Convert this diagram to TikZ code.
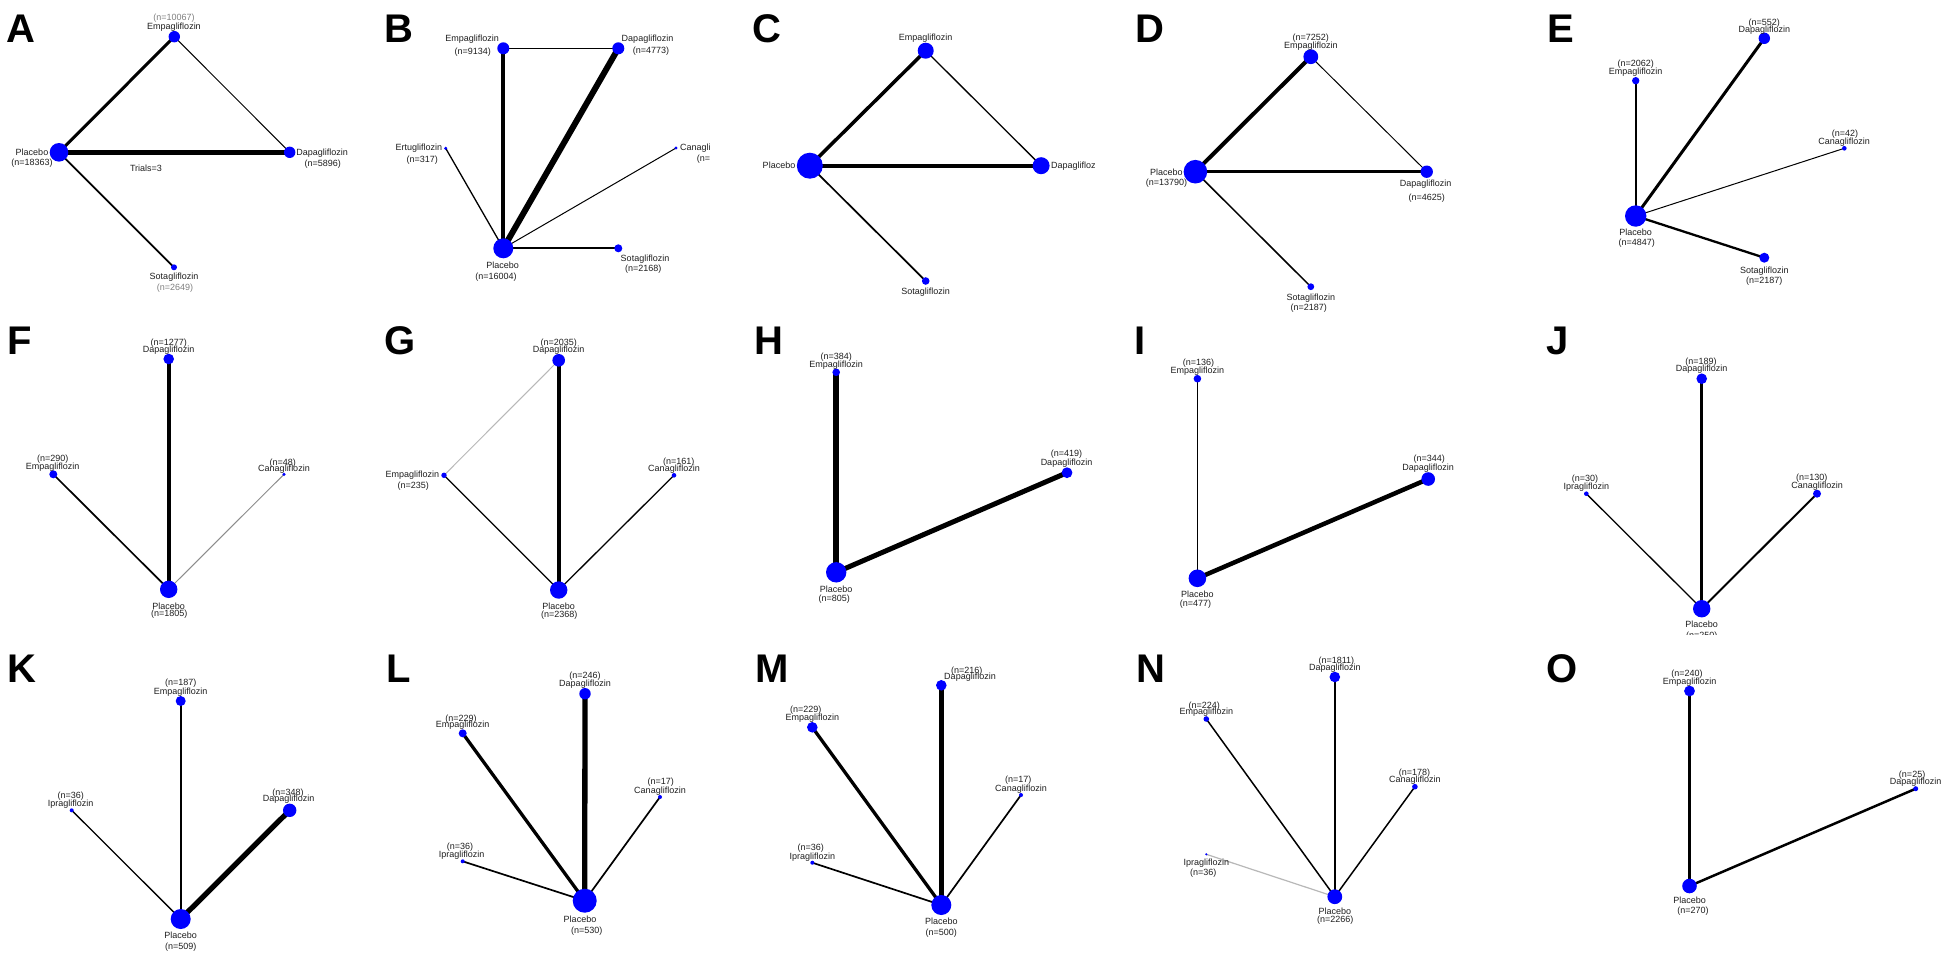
\documentclass[tikz,border=0pt]{standalone}
\usepackage{fontspec}
\setmainfont{Liberation Sans}
\usetikzlibrary{backgrounds}
\begin{document}
\begin{tikzpicture}[x=1pt,y=-1pt,
  nd/.style={circle,fill=blue,draw=none,inner sep=0pt,minimum size=#1},
  lb/.style={inner sep=0pt,font=\fontsize{9}{10}\selectfont,text=black!88},
  gl/.style={lb,text=black!50},
  plet/.style={anchor=base west,inner sep=0pt,font=\fontsize{40}{40}\selectfont\bfseries},
  ed/.style={draw=black,line width=#1},
  ged/.style={draw=black!45,line width=#1},
  lged/.style={draw=black!28,line width=#1}]
\useasboundingbox (0,0) rectangle (1950,962);
\begin{scope}[on background layer]
\fill[white] (0,0) rectangle (1950,962);
\end{scope}

% ---------------- A ----------------
\node[plet] (A) at (6,42) {A};
\node[nd=18.6] (Apl) at (59,152.3) {};
\node[nd=11.4] (Aem) at (174.3,36.7) {};
\node[nd=11.4] (Ada) at (289.7,152.3) {};
\node[nd=6] (Aso) at (174,267.3) {};
\node[gl] (Aeml1) at (174,18) {(n=10067)};
\node[lb] (Aeml2) at (174,27) {Empagliflozin};
\node[lb] (Apll1) at (32,152.3) {Placebo};
\node[lb] (Apll2) at (32,163.3) {(n=18363)};
\node[lb] (Adal1) at (322.2,152.7) {Dapagliflozin};
\node[lb] (Adal2) at (322.7,164) {(n=5896)};
\node[lb] (Asol1) at (174,277.3) {Sotagliflozin};
\node[gl] (Asol2) at (175,288.3) {(n=2649)};
\node[lb] (Atr) at (146,168.7) {Trials=3};
\begin{scope}[on background layer]
\draw[ed=3] (Apl.center) -- (Aem.center);
\draw[ed=4.7] (Apl.center) -- (Ada.center);
\draw[ed=1] (Aem.center) -- (Ada.center);
\draw[ed=1.7] (Apl.center) -- (Aso.center);
\end{scope}

% ---------------- B ----------------
\node[plet] (B) at (384,42) {B};
\node[nd=20] (Bpl) at (503.3,248.3) {};
\node[nd=12] (Bem) at (503.3,48.3) {};
\node[nd=12] (Bda) at (618.3,48.3) {};
\node[nd=3.4] (Ber) at (445.7,148.3) {};
\node[nd=3.4] (Bca) at (676,148) {};
\node[nd=8] (Bso) at (618.3,248.3) {};
\node[lb] (Beml1) at (472.2,39.3) {Empagliflozin};
\node[lb] (Beml2) at (472.7,51.7) {(n=9134)};
\node[lb] (Bdal1) at (647.5,39.3) {Dapagliflozin};
\node[lb] (Bdal2) at (651,50.7) {(n=4773)};
\node[lb] (Berl1) at (418.8,148.3) {Ertugliflozin};
\node[lb] (Berl2) at (422.3,160) {(n=317)};
\begin{scope}
\clip (380,0) rectangle (709,320);
\node[lb,anchor=west] (Bcal1) at (680,148.3) {Canagliflozin};
\node[lb,anchor=west] (Bcal2) at (696.7,159.3) {(n=};
\end{scope}
\node[lb] (Bpll1) at (502.7,265.7) {Placebo};
\node[lb] (Bpll2) at (496,276.7) {(n=16004)};
\node[lb] (Bsol1) at (645,258.7) {Sotagliflozin};
\node[lb] (Bsol2) at (643.3,269) {(n=2168)};
\begin{scope}[on background layer]
\draw[ed=4] (Bpl.center) -- (Bem.center);
\draw[ed=6] (Bpl.center) -- (Bda.center);
\draw[ed=1.3] (Bem.center) -- (Bda.center);
\draw[ed=1.3] (Bpl.center) -- (Ber.center);
\draw[ed=1] (Bpl.center) -- (Bca.center);
\draw[ed=1.7] (Bpl.center) -- (Bso.center);
\end{scope}

% ---------------- C ----------------
\node[plet] (C) at (752,42) {C};
\node[nd=26] (Cpl) at (809.8,165.7) {};
\node[nd=16] (Cem) at (925.7,50.7) {};
\node[nd=17] (Cda) at (1041.1,165.7) {};
\node[nd=7.6] (Cso) at (925.7,281) {};
\node[lb] (Ceml) at (925.7,37.7) {Empagliflozin};
\node[lb] (Cpll) at (779,165.7) {Placebo};
\begin{scope}
\clip (1000,100) rectangle (1094,220);
\node[lb,anchor=west] (Cdal) at (1051,165.7) {Dapagliflozin};
\end{scope}
\node[lb] (Csol) at (925.7,291.7) {Sotagliflozin};
\begin{scope}[on background layer]
\draw[ed=3.5] (Cpl.center) -- (Cem.center);
\draw[ed=4] (Cpl.center) -- (Cda.center);
\draw[ed=1.3] (Cem.center) -- (Cda.center);
\draw[ed=1.7] (Cpl.center) -- (Cso.center);
\end{scope}

% ---------------- D ----------------
\node[plet] (D) at (1135,42) {D};
\node[nd=23.6] (Dpl) at (1195.4,171.7) {};
\node[nd=14.8] (Dem) at (1310.8,56.7) {};
\node[nd=12.4] (Dda) at (1426.7,171.7) {};
\node[nd=6.8] (Dso) at (1310.8,286.7) {};
\node[lb] (Deml1) at (1310.8,37.7) {(n=7252)};
\node[lb] (Deml2) at (1310.8,45.7) {Empagliflozin};
\node[lb] (Dpll1) at (1166.3,172.3) {Placebo};
\node[lb] (Dpll2) at (1166.5,182.7) {(n=13790)};
\node[lb] (Ddal1) at (1425.7,184.3) {Dapagliflozin};
\node[lb] (Ddal2) at (1426.7,197.7) {(n=4625)};
\node[lb] (Dsol1) at (1310.8,297.7) {Sotagliflozin};
\node[lb] (Dsol2) at (1308.8,308.3) {(n=2187)};
\begin{scope}[on background layer]
\draw[ed=4] (Dpl.center) -- (Dem.center);
\draw[ed=3.3] (Dpl.center) -- (Dda.center);
\draw[ed=1] (Dem.center) -- (Dda.center);
\draw[ed=1.5] (Dpl.center) -- (Dso.center);
\end{scope}

% ---------------- E ----------------
\node[plet] (E) at (1547,42) {E};
\node[nd=21.4] (Epl) at (1635.7,216) {};
\node[nd=11.4] (Eda) at (1764.3,38.3) {};
\node[nd=7.4] (Eem) at (1635.7,80.7) {};
\node[nd=4.6] (Eca) at (1844.3,148.3) {};
\node[nd=10] (Eso) at (1764.3,257.7) {};
\node[lb] (Edal1) at (1764.3,22.7) {(n=552)};
\node[lb] (Edal2) at (1764.3,29.7) {Dapagliflozin};
\node[lb] (Eeml1) at (1635.7,64) {(n=2062)};
\node[lb] (Eeml2) at (1635.7,72.3) {Empagliflozin};
\node[lb] (Ecal1) at (1845,134.3) {(n=42)};
\node[lb] (Ecal2) at (1844,142.3) {Canagliflozin};
\node[lb] (Epll1) at (1635.7,232.7) {Placebo};
\node[lb] (Epll2) at (1636.7,242.7) {(n=4847)};
\node[lb] (Esol1) at (1764.3,270.7) {Sotagliflozin};
\node[lb] (Esol2) at (1764.3,281) {(n=2187)};
\begin{scope}[on background layer]
\draw[ed=1.7] (Epl.center) -- (Eem.center);
\draw[ed=3] (Epl.center) -- (Eda.center);
\draw[ed=1] (Epl.center) -- (Eca.center);
\draw[ed=2.3] (Epl.center) -- (Eso.center);
\end{scope}

% ---------------- F ----------------
\node[plet] (F) at (7,354) {F};
\node[nd=17.4] (Fpl) at (168.7,589.3) {};
\node[nd=10.6] (Fda) at (168.7,359) {};
\node[nd=8] (Fem) at (53.3,474.3) {};
\node[nd=3.4] (Fca) at (284,474.3) {};
\node[lb] (Fdal1) at (168.7,342.7) {(n=1277)};
\node[lb] (Fdal2) at (168.7,349.7) {Dapagliflozin};
\node[lb] (Feml1) at (52.7,459.3) {(n=290)};
\node[lb] (Feml2) at (52.7,467) {Empagliflozin};
\node[lb] (Fcal1) at (282.7,462.7) {(n=48)};
\node[lb] (Fcal2) at (284,468.7) {Canagliflozin};
\node[lb] (Fpll1) at (168.7,606) {Placebo};
\node[lb] (Fpll2) at (169.3,614) {(n=1805)};
\begin{scope}[on background layer]
\draw[ed=3.7] (Fpl.center) -- (Fda.center);
\draw[ed=1.7] (Fpl.center) -- (Fem.center);
\draw[ged=1] (Fpl.center) -- (Fca.center);
\end{scope}

% ---------------- G ----------------
\node[plet] (G) at (384,354) {G};
\node[nd=17.4] (Gpl) at (558.7,590) {};
\node[nd=12.6] (Gda) at (558.7,360.3) {};
\node[nd=5.4] (Gem) at (444,475.3) {};
\node[nd=4.6] (Gca) at (674,475.3) {};
\node[lb] (Gdal1) at (558.7,342.7) {(n=2035)};
\node[lb] (Gdal2) at (558.7,349.7) {Dapagliflozin};
\node[lb] (Geml1) at (412.3,475.3) {Empagliflozin};
\node[lb] (Geml2) at (413.3,485.7) {(n=235)};
\node[lb] (Gcal1) at (678.7,461.7) {(n=161)};
\node[lb] (Gcal2) at (674,469) {Canagliflozin};
\node[lb] (Gpll1) at (558.7,606) {Placebo};
\node[lb] (Gpll2) at (559.3,615.3) {(n=2368)};
\begin{scope}[on background layer]
\draw[lged=1] (Gda.center) -- (Gem.center);
\draw[ed=3.7] (Gpl.center) -- (Gda.center);
\draw[ed=1.3] (Gpl.center) -- (Gem.center);
\draw[ed=1.3] (Gpl.center) -- (Gca.center);
\end{scope}

% ---------------- H ----------------
\node[plet] (H) at (754,354) {H};
\node[nd=20.4] (Hpl) at (836.2,572.3) {};
\node[nd=7.6] (Hem) at (836.2,372.3) {};
\node[nd=10.8] (Hda) at (1067,472.7) {};
\node[lb] (Heml1) at (836.2,357.3) {(n=384)};
\node[lb] (Heml2) at (836.2,365) {Empagliflozin};
\node[lb] (Hdal1) at (1066.5,454.3) {(n=419)};
\node[lb] (Hdal2) at (1066.5,463) {Dapagliflozin};
\node[lb] (Hpll1) at (836.2,589.3) {Placebo};
\node[lb] (Hpll2) at (834.2,599) {(n=805)};
\begin{scope}[on background layer]
\draw[ed=5.5] (Hpl.center) -- (Hem.center);
\draw[ed=5] (Hpl.center) -- (Hda.center);
\end{scope}

% ---------------- I ----------------
\node[plet] (I) at (1134,354) {I};
\node[nd=17.6] (Ipl) at (1197.4,578.3) {};
\node[nd=7.6] (Iem) at (1197.4,378.7) {};
\node[nd=13.6] (Ida) at (1428.2,479) {};
\node[lb] (Ieml1) at (1198.4,363) {(n=136)};
\node[lb] (Ieml2) at (1197.4,370.7) {Empagliflozin};
\node[lb] (Idal1) at (1429.2,459) {(n=344)};
\node[lb] (Idal2) at (1428.2,467.7) {Dapagliflozin};
\node[lb] (Ipll1) at (1197.4,594) {Placebo};
\node[lb] (Ipll2) at (1195.4,603.7) {(n=477)};
\begin{scope}[on background layer]
\draw[ed=1.8] (Ipl.center) -- (Iem.center);
\draw[ed=4.5] (Ipl.center) -- (Ida.center);
\end{scope}

% ---------------- J ----------------
\node[plet] (J) at (1546,354) {J};
\node[nd=17.4] (Jpl) at (1701.7,608.7) {};
\node[nd=10.6] (Jda) at (1701.7,378.7) {};
\node[nd=4.6] (Jip) at (1586.3,493.7) {};
\node[nd=8] (Jca) at (1817,493.7) {};
\node[lb] (Jdal1) at (1701,361.7) {(n=189)};
\node[lb] (Jdal2) at (1701.7,369) {Dapagliflozin};
\node[lb] (Jipl1) at (1585,479.3) {(n=30)};
\node[lb] (Jipl2) at (1586.3,486.7) {Ipragliflozin};
\node[lb] (Jcal1) at (1811.7,478.3) {(n=130)};
\node[lb] (Jcal2) at (1817,485.7) {Canagliflozin};
\node[lb] (Jpll1) at (1701.7,624.3) {Placebo};
\begin{scope}
\clip (1600,600) rectangle (1800,634);
\node[lb] (Jpll2) at (1701.7,636) {(n=250)};
\end{scope}
\begin{scope}[on background layer]
\draw[ed=3] (Jpl.center) -- (Jda.center);
\draw[ed=1.3] (Jpl.center) -- (Jip.center);
\draw[ed=2] (Jpl.center) -- (Jca.center);
\end{scope}

% ---------------- K ----------------
\node[plet] (K) at (7,682) {K};
\node[nd=20] (Kpl) at (180.7,919) {};
\node[nd=10] (Kem) at (180.7,701) {};
\node[nd=4] (Kip) at (71.7,810.3) {};
\node[nd=13.4] (Kda) at (289.7,810.3) {};
\node[lb] (Keml1) at (180.7,683.3) {(n=187)};
\node[lb] (Keml2) at (180.7,691.7) {Empagliflozin};
\node[lb] (Kipl1) at (70.7,795.7) {(n=36)};
\node[lb] (Kipl2) at (70.7,804) {Ipragliflozin};
\node[lb] (Kdal1) at (288,792.7) {(n=348)};
\node[lb] (Kdal2) at (288.7,799) {Dapagliflozin};
\node[lb] (Kpll1) at (180.7,935.7) {Placebo};
\node[lb] (Kpll2) at (180.7,946.7) {(n=509)};
\begin{scope}[on background layer]
\draw[ed=1.7] (Kpl.center) -- (Kem.center);
\draw[ed=1.3] (Kpl.center) -- (Kip.center);
\draw[ed=5.3] (Kpl.center) -- (Kda.center);
\end{scope}

% ---------------- L ----------------
\node[plet] (L) at (386,682) {L};
\node[nd=24] (Lpl) at (584.7,900.7) {};
\node[nd=11.4] (Lda) at (585,693.7) {};
\node[nd=8] (Lem) at (462.7,733.3) {};
\node[nd=4] (Lca) at (660,797) {};
\node[nd=4] (Lip) at (462.7,861.3) {};
\node[lb] (Ldal1) at (585,675.7) {(n=246)};
\node[lb] (Ldal2) at (585,683.7) {Dapagliflozin};
\node[lb] (Leml1) at (461,718.7) {(n=229)};
\node[lb] (Leml2) at (462.7,725.3) {Empagliflozin};
\node[lb] (Lcal1) at (660.7,782.3) {(n=17)};
\node[lb] (Lcal2) at (660,791) {Canagliflozin};
\node[lb] (Lipl1) at (460,846.7) {(n=36)};
\node[lb] (Lipl2) at (461.7,855) {Ipragliflozin};
\node[lb] (Lpll1) at (580,919.3) {Placebo};
\node[lb] (Lpll2) at (586.7,930.7) {(n=530)};
\begin{scope}[on background layer]
\draw[ed=5.3] (Lpl.center) -- (Lda.center);
\draw[ed=3.3] (Lpl.center) -- (Lem.center);
\draw[ed=1.7] (Lpl.center) -- (Lca.center);
\draw[ed=1.7] (Lpl.center) -- (Lip.center);
\end{scope}

% ---------------- M ----------------
\node[plet] (M) at (755,682) {M};
\node[nd=20] (Mpl) at (941.3,905) {};
\node[nd=10.6] (Mda) at (941.3,685.3) {};
\node[nd=10.6] (Mem) at (812.3,727.3) {};
\node[nd=4] (Mca) at (1021,795) {};
\node[nd=4] (Mip) at (812.3,862.7) {};
\node[lb] (Mdal1) at (966.7,670.7) {(n=216)};
\node[lb] (Mdal2) at (970,676.7) {Dapagliflozin};
\node[lb] (Meml1) at (805.7,710) {(n=229)};
\node[lb] (Meml2) at (812.3,717.7) {Empagliflozin};
\node[lb] (Mcal1) at (1018.3,780) {(n=17)};
\node[lb] (Mcal2) at (1021,789) {Canagliflozin};
\node[lb] (Mipl1) at (810.7,848) {(n=36)};
\node[lb] (Mipl2) at (812.3,856.7) {Ipragliflozin};
\node[lb] (Mpll1) at (941.3,921.7) {Placebo};
\node[lb] (Mpll2) at (941.3,933.3) {(n=500)};
\begin{scope}[on background layer]
\draw[ed=5] (Mpl.center) -- (Mda.center);
\draw[ed=3.3] (Mpl.center) -- (Mem.center);
\draw[ed=1.7] (Mpl.center) -- (Mca.center);
\draw[ed=1.7] (Mpl.center) -- (Mip.center);
\end{scope}

% ---------------- N ----------------
\node[plet] (N) at (1136,682) {N};
\node[nd=14.8] (Npl) at (1334.8,896.7) {};
\node[nd=10.6] (Nda) at (1334.8,677) {};
\node[nd=5.6] (Nem) at (1206.3,719) {};
\node[nd=5.6] (Nca) at (1414.9,786.7) {};
\node[nd=2.4] (Nip) at (1206.3,854.3) {};
\node[lb] (Ndal1) at (1336.3,660.7) {(n=1811)};
\node[lb] (Ndal2) at (1334.8,668) {Dapagliflozin};
\node[lb] (Neml1) at (1204.3,706) {(n=224)};
\node[lb] (Neml2) at (1206.3,712) {Empagliflozin};
\node[lb] (Ncal1) at (1414.4,772.7) {(n=178)};
\node[lb] (Ncal2) at (1414.9,780) {Canagliflozin};
\node[lb] (Nipl1) at (1206.3,862.7) {Ipragliflozin};
\node[lb] (Nipl2) at (1203.3,873) {(n=36)};
\node[lb] (Npll1) at (1334.8,911) {Placebo};
\node[lb] (Npll2) at (1335.3,920) {(n=2266)};
\begin{scope}[on background layer]
\draw[ed=2.5] (Npl.center) -- (Nda.center);
\draw[ed=1.5] (Npl.center) -- (Nem.center);
\draw[ed=1.5] (Npl.center) -- (Nca.center);
\draw[lged=1.2] (Npl.center) -- (Nip.center);
\end{scope}

% ---------------- O ----------------
\node[plet] (O) at (1546,682) {O};
\node[nd=14.6] (Opl) at (1689.5,886) {};
\node[nd=10.8] (Oem) at (1689.5,691) {};
\node[nd=5] (Oda) at (1915.7,788.7) {};
\node[lb] (Oeml1) at (1687,674.3) {(n=240)};
\node[lb] (Oeml2) at (1689.5,681.7) {Empagliflozin};
\node[lb] (Odal1) at (1912.1,775) {(n=25)};
\node[lb] (Odal2) at (1915.7,782.3) {Dapagliflozin};
\node[lb] (Opll1) at (1689.5,900) {Placebo};
\node[lb] (Opll2) at (1693,910.7) {(n=270)};
\begin{scope}[on background layer]
\draw[ed=2.8] (Opl.center) -- (Oem.center);
\draw[ed=2.5] (Opl.center) -- (Oda.center);
\end{scope}
\end{tikzpicture}
\end{document}
